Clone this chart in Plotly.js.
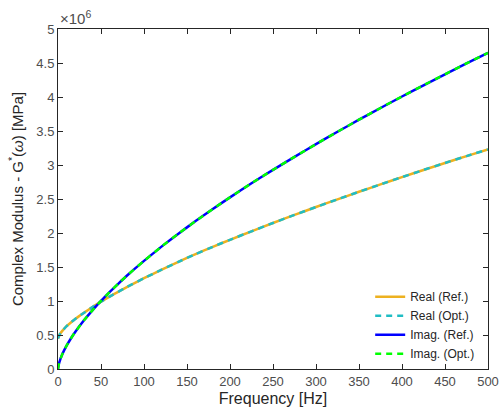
<!DOCTYPE html>
<html>
<head>
<meta charset="utf-8">
<script src="https://cdn.plot.ly/plotly-3.0.1.min.js"></script>
<style>html,body{margin:0;padding:0;background:#fff;}#chart{width:501px;height:418px;}</style>
</head>
<body>
<div id="chart"></div>
<script>
// Frequency [Hz]
var freq = [0, 1, 2, 5, 10, 15, 20, 30, 40, 50, 60, 70, 80, 100, 120, 140, 160, 180, 200, 225, 250, 275, 300, 325, 350, 375, 400, 425, 450, 475, 500];
// Values in units of 1e6 (axis multiplier x10^6)
var realRef = [0.45, 0.48, 0.51, 0.56, 0.63, 0.685, 0.735, 0.825, 0.91, 0.99, 1.065, 1.135, 1.205, 1.335, 1.458, 1.576, 1.689, 1.797, 1.900, 2.025, 2.147, 2.266, 2.382, 2.495, 2.606, 2.715, 2.822, 2.927, 3.030, 3.131, 3.230];
var realOpt = [0.45, 0.48, 0.51, 0.56, 0.63, 0.685, 0.735, 0.825, 0.91, 0.99, 1.065, 1.135, 1.205, 1.335, 1.458, 1.576, 1.689, 1.797, 1.900, 2.025, 2.147, 2.266, 2.382, 2.495, 2.606, 2.715, 2.822, 2.927, 3.030, 3.131, 3.230];
var imagRef = [0, 0.074, 0.117, 0.216, 0.343, 0.449, 0.544, 0.712, 0.863, 1.002, 1.131, 1.253, 1.371, 1.590, 1.796, 1.990, 2.175, 2.353, 2.524, 2.731, 2.929, 3.120, 3.307, 3.489, 3.666, 3.838, 4.007, 4.172, 4.334, 4.493, 4.650];
var imagOpt = [0, 0.074, 0.117, 0.216, 0.343, 0.449, 0.544, 0.712, 0.863, 1.002, 1.131, 1.253, 1.371, 1.590, 1.796, 1.990, 2.175, 2.353, 2.524, 2.731, 2.929, 3.120, 3.307, 3.489, 3.666, 3.838, 4.007, 4.172, 4.334, 4.493, 4.650];
var seriesNames = ['Real (Ref.)', 'Real (Opt.)', 'Imag. (Ref.)', 'Imag. (Opt.)'];
var xTicks = [0, 50, 100, 150, 200, 250, 300, 350, 400, 450, 500];
var yTicks = [0, 0.5, 1, 1.5, 2, 2.5, 3, 3.5, 4, 4.5, 5];
var yTickText = ['0', '0.5', '1', '1.5', '2', '2.5', '3', '3.5', '4', '4.5', '5'];

var FONT = 'Liberation Sans, Arial, Helvetica, sans-serif';
var AX = '#262626';

var traces = [
  {x: freq, y: realRef, name: seriesNames[0], mode: 'lines', line: {color: '#EDB120', width: 2.5, shape: 'spline', smoothing: 0.5}},
  {x: freq, y: realOpt, name: seriesNames[1], mode: 'lines', line: {color: '#20BDC4', width: 2.5, dash: '6px,5px', shape: 'spline', smoothing: 0.5}},
  {x: freq, y: imagRef, name: seriesNames[2], mode: 'lines', line: {color: '#0000FF', width: 2.5, shape: 'spline', smoothing: 0.5}},
  {x: freq, y: imagOpt, name: seriesNames[3], mode: 'lines', line: {color: '#00FF00', width: 2.5, dash: '6px,5px', shape: 'spline', smoothing: 0.5}}
];

var layout = {
  width: 501, height: 418,
  margin: {l: 58, r: 13, t: 29, b: 49, pad: 0},
  paper_bgcolor: '#fff', plot_bgcolor: '#fff',
  font: {family: FONT, color: AX, size: 13},
  showlegend: true,
  legend: {x: 0.726, y: 0.255, xanchor: 'left', yanchor: 'top', bgcolor: 'rgba(0,0,0,0)', borderwidth: 0,
           font: {family: FONT, size: 12, color: AX}, tracegroupgap: 0},
  xaxis: {
    range: [0, 500], tickvals: xTicks, ticks: 'inside', ticklen: 5, tickcolor: AX,
    showline: true, linecolor: AX, linewidth: 1, mirror: 'allticks', showgrid: false, zeroline: false,
    tickfont: {family: FONT, size: 13, color: '#4d4d4d'},
    title: {text: 'Frequency [Hz]', font: {family: FONT, size: 16, color: AX}, standoff: 5}
  },
  yaxis: {
    range: [0, 5], tickvals: yTicks, ticktext: yTickText, ticks: 'inside', ticklen: 5, tickcolor: AX,
    showline: true, linecolor: AX, linewidth: 1, mirror: 'allticks', showgrid: false, zeroline: false,
    tickfont: {family: FONT, size: 13, color: '#4d4d4d'},
    title: {text: 'Complex Modulus - G<sup>*</sup>(<i>ω</i>) [MPa]', font: {family: FONT, size: 15, color: AX}, standoff: 9}
  },
  annotations: [
    {xref: 'paper', yref: 'paper', x: 0, y: 1, xanchor: 'left', yanchor: 'bottom', yshift: 0, showarrow: false,
     text: '×10<sup>6</sup>', font: {family: FONT, size: 15, color: '#4d4d4d'}}
  ]
};

Plotly.newPlot('chart', traces, layout, {displayModeBar: false, staticPlot: true});
</script>
</body>
</html>
